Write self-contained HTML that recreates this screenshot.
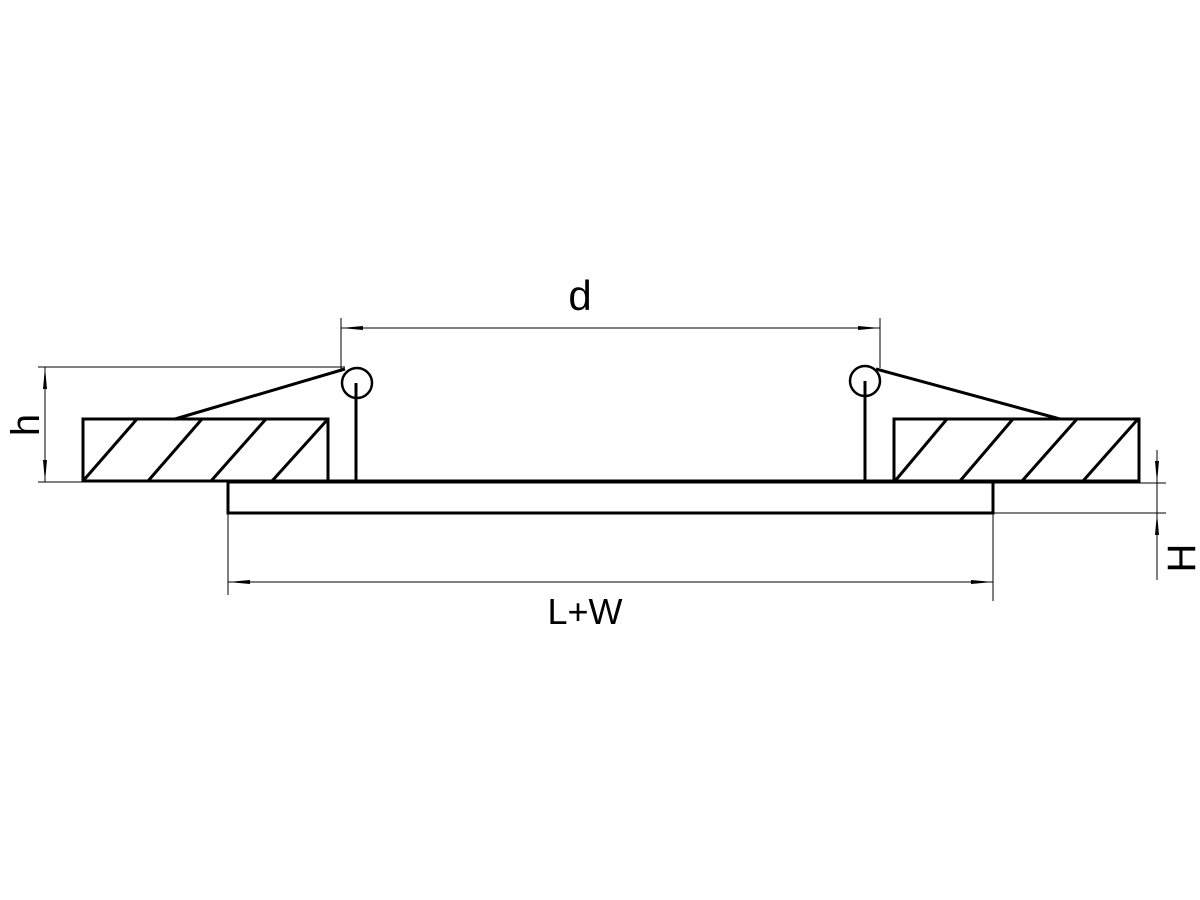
<!DOCTYPE html>
<html><head><style>body{margin:0;background:#fff}svg{display:block}</style></head><body>
<svg width="1200" height="900" viewBox="0 0 1200 900" xmlns="http://www.w3.org/2000/svg">
<rect width="1200" height="900" fill="#fff"/>
<g stroke="#000" fill="none" stroke-width="3">
<rect x="83" y="419" width="245" height="62"/>
<rect x="894" y="419" width="245" height="62"/>
<line x1="83" y1="481" x2="137" y2="419"/><line x1="148" y1="481" x2="202" y2="419"/><line x1="211" y1="481" x2="266" y2="419"/><line x1="272" y1="481" x2="328" y2="419"/>
<line x1="895" y1="481" x2="947" y2="419"/><line x1="960" y1="481" x2="1013" y2="419"/><line x1="1022" y1="481" x2="1077" y2="419"/><line x1="1083" y1="481" x2="1138" y2="419"/>
<rect x="228" y="482" width="765" height="31"/>
<line x1="328" y1="481" x2="894" y2="481"/>
<circle cx="357" cy="383" r="15" stroke-width="2.5"/>
<circle cx="865" cy="381" r="15" stroke-width="2.5"/>
<line x1="356" y1="383" x2="356" y2="481"/>
<line x1="865" y1="381" x2="865" y2="481"/>
<line x1="345" y1="369" x2="175" y2="419"/>
<line x1="876" y1="369" x2="1060" y2="419"/>
</g>
<g stroke="#000" stroke-width="1" fill="none">
<line x1="341" y1="318" x2="341" y2="370"/><line x1="880" y1="318" x2="880" y2="368"/>
<line x1="341" y1="328" x2="880" y2="328"/>
<line x1="38" y1="367" x2="345" y2="367"/><line x1="38" y1="482" x2="83" y2="482"/>
<line x1="45" y1="367" x2="45" y2="482"/>
<line x1="993" y1="483" x2="1166" y2="483"/><line x1="993" y1="513" x2="1166" y2="513"/>
<line x1="1157" y1="450" x2="1157" y2="580"/>
<line x1="228" y1="513" x2="228" y2="595"/><line x1="993" y1="513" x2="993" y2="601"/>
<line x1="228" y1="582" x2="993" y2="582"/>
</g>
<g fill="#000">
<polygon points="341,328 363,326 363,330"/><polygon points="880,328 858,326 858,330"/>
<polygon points="228,582 250,580 250,584"/><polygon points="993,582 971,580 971,584"/>
<polygon points="45,367 43,389 47,389"/><polygon points="45,482 43,460 47,460"/>
<polygon points="1157,483 1155,461 1159,461"/><polygon points="1157,513 1155,535 1159,535"/>
</g>
<g font-family="Liberation Sans, sans-serif" fill="#000">
<text x="580" y="310" font-size="42" text-anchor="middle">d</text>
<text x="585" y="624" font-size="36" text-anchor="middle">L+W</text>
<text transform="translate(39,425) rotate(-90)" font-size="40" text-anchor="middle">h</text>
<text transform="translate(1195,558) rotate(-90)" font-size="40" text-anchor="middle">H</text>
</g>
</svg>
</body></html>
